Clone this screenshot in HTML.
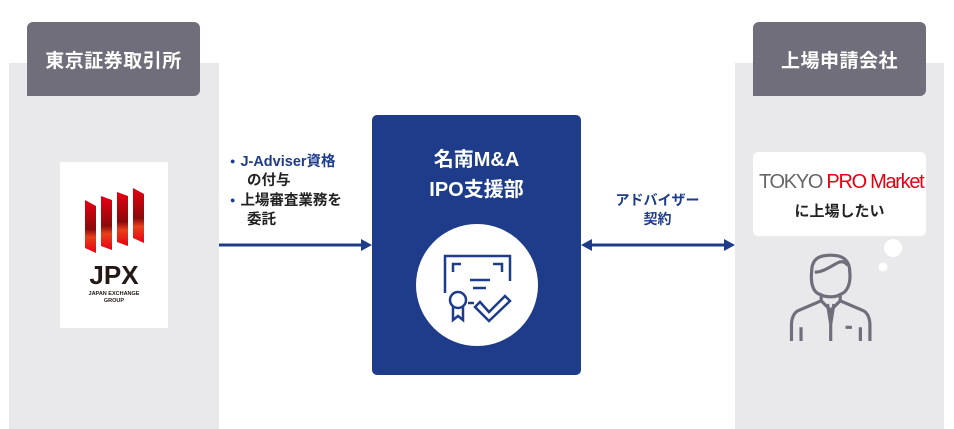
<!DOCTYPE html>
<html><head><meta charset="utf-8"><style>
body{margin:0;width:954px;height:429px;background:#fff;position:relative;overflow:hidden;font-family:"Liberation Sans","Noto Sans CJK JP",sans-serif}
.a{position:absolute}
.panel{background:#e9e9ec}
.hdr{background:#6f6e7a;color:#fff;font-weight:bold;font-size:19px;display:flex;align-items:center;justify-content:center;letter-spacing:0.5px}
</style></head><body>
<div class="a panel" style="left:9px;top:63px;width:210px;height:366px"></div>
<div class="a panel" style="left:735px;top:63px;width:209px;height:366px"></div>
<div class="a hdr" style="left:27px;top:22px;width:173px;height:74px;border-radius:6px 6px 6px 0">東京証券取引所</div>
<div class="a hdr" style="left:753px;top:22px;width:173px;height:74px;border-radius:6px 6px 6px 0">上場申請会社</div>
<div class="a" style="left:60px;top:162px;width:108px;height:166px;background:#fff"></div>
<svg class="a" style="left:60px;top:162px" width="108" height="166">
<defs><linearGradient id="g" x1="0" y1="0" x2="0" y2="1"><stop offset="0" stop-color="#e60012"/><stop offset="0.55" stop-color="#8a0a0a"/><stop offset="0.7" stop-color="#e8401a"/><stop offset="1" stop-color="#e60012"/></linearGradient></defs>
<polygon points="25,38 36,44 36,91 25,86" fill="url(#g)"/>
<polygon points="41,34 52,38 52,88 41,84" fill="url(#g)"/>
<polygon points="57,30 68,34 68,84 57,80" fill="url(#g)"/>
<polygon points="73,26 84,32 84,81 73,76" fill="url(#g)"/>
<text x="54" y="122" text-anchor="middle" font-family="Liberation Sans" font-weight="bold" font-size="26" fill="#231815">JPX</text>
<text x="54" y="133" text-anchor="middle" font-family="Liberation Sans" font-weight="bold" font-size="5.5" fill="#231815">JAPAN EXCHANGE</text>
<text x="54" y="140" text-anchor="middle" font-family="Liberation Sans" font-weight="bold" font-size="5.5" fill="#231815">GROUP</text>
</svg>
<div class="a" style="left:230px;top:152px;font-size:14.5px;font-weight:bold;line-height:19px;color:#222">
<div><span style="color:#1e3c8a;font-size:9px;margin-right:5px;vertical-align:2px">●</span><span style="color:#1e3c8a">J-Adviser資格</span></div>
<div style="padding-left:17px">の付与</div>
<div><span style="color:#1e3c8a;font-size:9px;margin-right:5px;vertical-align:2px">●</span>上場審査業務を</div>
<div style="padding-left:17px">委託</div>
</div>
<div class="a" style="left:595px;top:191px;width:125px;text-align:center;font-size:14px;font-weight:bold;line-height:19px;color:#1e3c8a">アドバイザー<br>契約</div>
<svg class="a" style="left:0;top:0" width="954" height="429">
<line x1="219" y1="245" x2="364" y2="245" stroke="#1e3c8a" stroke-width="3"/>
<polygon points="372,245 361,239 361,251" fill="#1e3c8a"/>
<line x1="590" y1="245" x2="726" y2="245" stroke="#1e3c8a" stroke-width="3"/>
<polygon points="581,245 592,239 592,251" fill="#1e3c8a"/>
<polygon points="735,245 724,239 724,251" fill="#1e3c8a"/>
</svg>
<div class="a" style="left:372px;top:115px;width:209px;height:260px;background:#1e3c8a;border-radius:5px"></div>
<div class="a" style="left:372px;top:145px;width:209px;text-align:center;color:#fff;font-weight:bold;font-size:20px;line-height:30px">名南M&amp;A<br>IPO支援部</div>
<svg class="a" style="left:372px;top:115px" width="209" height="260">
<circle cx="105" cy="170" r="61" fill="#fff"/>
<g fill="none" stroke="#1e3c8a" stroke-width="2.5">
<path d="M73,178 V141 H138 V166"/>
<path d="M81,157 V149 H89 M121,149 H130 V157"/>
<path d="M98,165 H118 M101,173 H114"/>
<circle cx="86" cy="185" r="8"/>
<path d="M81,192 V205 L86,201 L91,205 V192"/>
<path d="M96,188 H102"/>
<path d="M108,187 L117,197 L133,181 L138,186 L117,206 L103,192 Z"/>
</g>
</svg>
<div class="a" style="left:753px;top:152px;width:173px;height:84px;background:#fff;border-radius:5px"></div>
<div class="a" style="left:759px;top:171px;font-size:20px;letter-spacing:-1.3px;white-space:nowrap"><span style="color:#666">TOKYO </span><span style="color:#e60012">PRO Market</span></div>
<div class="a" style="left:753px;top:200px;width:173px;text-align:center;font-size:15px;font-weight:bold;color:#222">に上場したい</div>
<svg class="a" style="left:735px;top:236px" width="209" height="110">
<circle cx="158" cy="12" r="9" fill="#fff"/>
<circle cx="148" cy="31" r="4.5" fill="#fff"/>
<g fill="none" stroke="#6f6e7a" stroke-width="3" transform="translate(-5,-2) scale(1.06)">
<path d="M85,57 C78,55 76,46 77,36 C77,24 83,20 95,20 C107,20 113,25 113,36 C114,46 111,55 104,57 C100,60 90,60 85,57 Z"/>
<path d="M80,36 C88,36 96,30 102,27 C106,25 110,27 111,30"/>
<path d="M86,58 V63 L65,72 C60,74 58,80 58,86 V101 M104,58 V63 L125,72 C130,74 132,80 132,86 V101"/>
<path d="M86,63 L95,72 L104,63 M95,72 V101 M92,66 L95,85 L98,66"/>
<path d="M67,88 V101 M123,88 V101 M109,88 H115"/>
</g>
</svg>
</body></html>
